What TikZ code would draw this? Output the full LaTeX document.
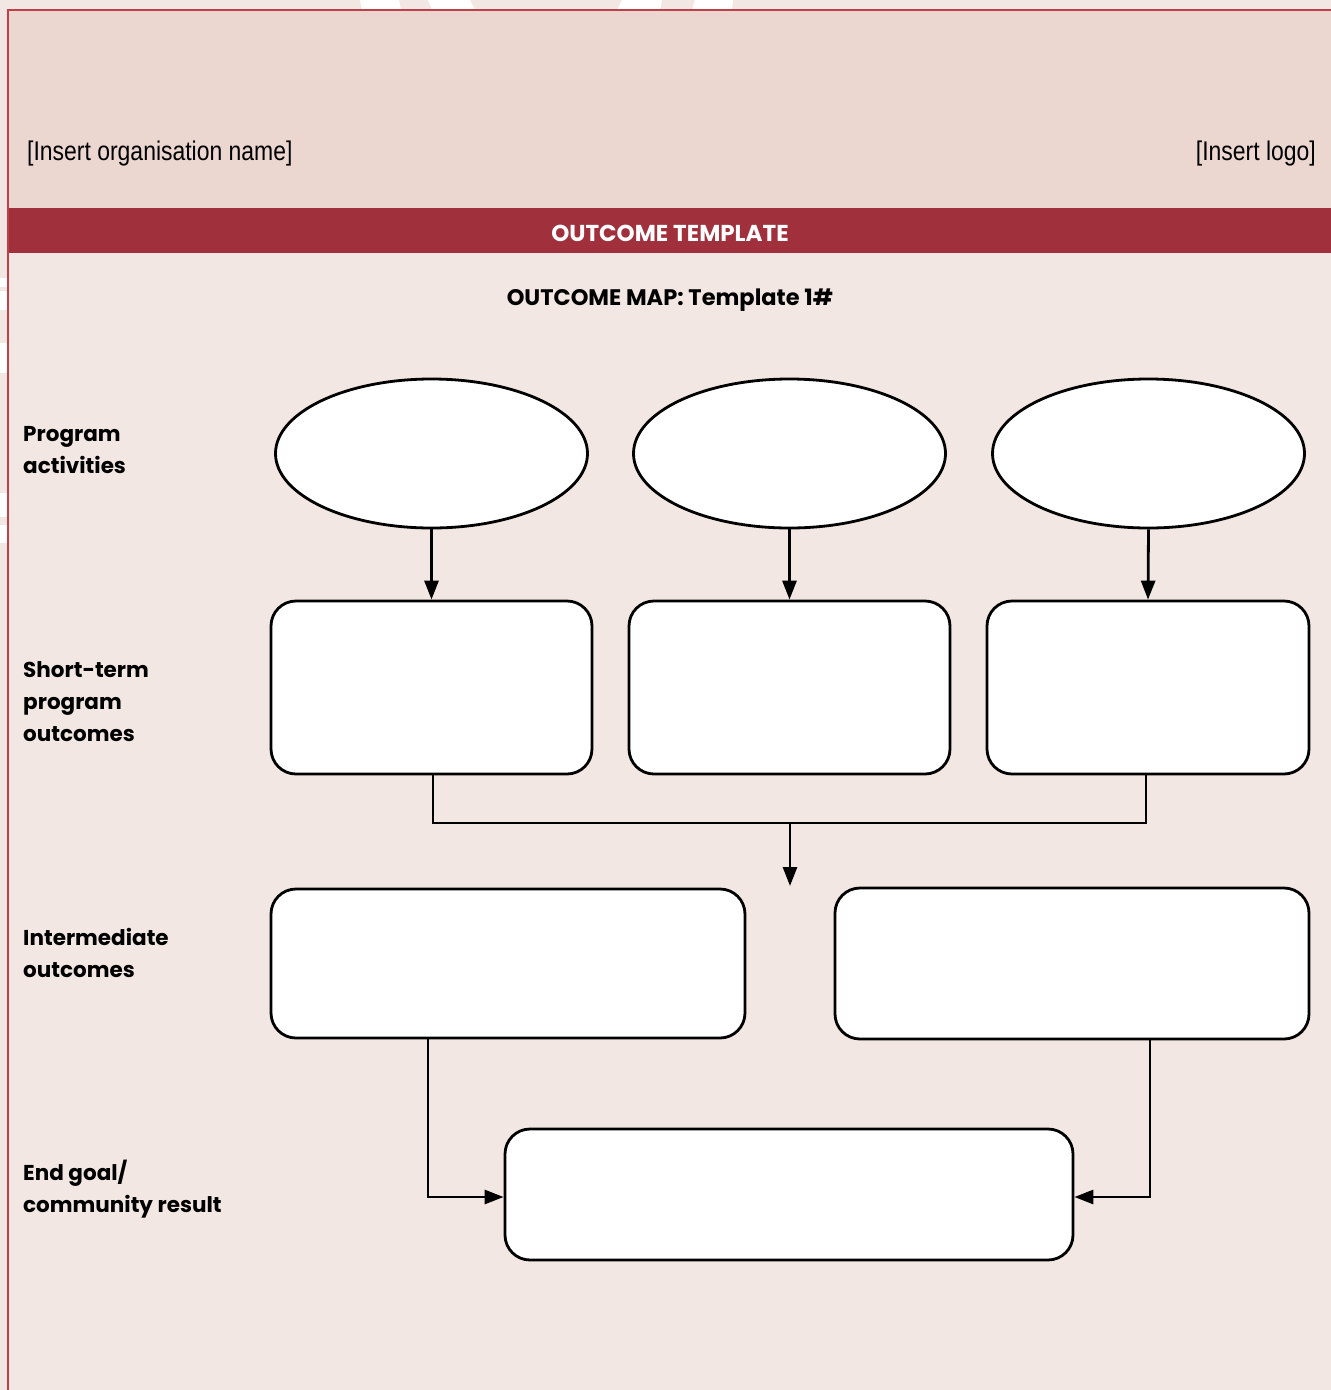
\documentclass[tikz,border=0pt]{standalone}
\usepackage{fontspec}
\usetikzlibrary{arrows.meta,shapes.geometric}
\setmainfont{Poppins}
\newfontfamily\labelfont{Poppins}
\newfontfamily\condfont[FakeStretch=0.85]{Liberation Sans}
\definecolor{pagebg}{HTML}{F2E7E2}
\definecolor{headbg}{HTML}{EBD6D0}
\definecolor{bandred}{HTML}{A0303C}
\definecolor{framered}{HTML}{C0404A}
\tikzset{
  activity/.style={ellipse,draw=black,fill=white,line width=2.8pt,minimum width=312pt,minimum height=149pt,inner sep=0pt},
  outbox/.style={draw=black,fill=white,line width=2.8pt,rounded corners=25pt,inner sep=0pt},
  link/.style={draw=black,line width=2.8pt},
  flow/.style={link,-{Triangle[length=19pt,width=14pt]}},
  rowlabel/.style={anchor=north west,align=left,inner sep=0pt,font=\labelfont\bfseries\fontsize{21.5}{32}\selectfont},
  headtext/.style={inner sep=0pt,font=\condfont\fontsize{27}{30}\selectfont}
}
\begin{document}
\begin{tikzpicture}[x=1pt,y=-1pt]
\useasboundingbox (0,0) rectangle (1331,1390);
% page background and white watermark strokes
\fill[pagebg] (0,0) rectangle (1331,1390);
\fill[white] (360,0) -- (399,0) -- (401,10) -- (362,10) -- cycle;
\fill[white] (428,0) -- (470,0) -- (475,10) -- (432,10) -- cycle;
\fill[white] (622,0) -- (662,0) -- (660,10) -- (617,10) -- cycle;
\fill[white] (695,0) -- (733,0) -- (732,10) -- (692,10) -- cycle;
\fill[white] (0,278) rectangle (8,287);
\fill[white] (0,291) rectangle (8,310);
\fill[white] (0,343) rectangle (8,373);
\fill[white] (0,493) rectangle (8,517);
\fill[white] (0,525) rectangle (8,543);
% header panel
\fill[headbg] (8,10) rectangle (1331,208);
\fill[bandred] (8,208) rectangle (1331,253);
\draw[framered,line width=1.5pt] (1331,10) -- (8,10) -- (8,1390);
\node[headtext,anchor=base west] (org) at (27,160) {[Insert organisation name]};
\node[headtext,anchor=base east] (logo) at (1316,160) {[Insert logo]};
\node[inner sep=0pt,text=white,font=\labelfont\bfseries\fontsize{23}{26}\selectfont] (band) at (670,233) {OUTCOME TEMPLATE};
\node[inner sep=0pt,font=\labelfont\bfseries\fontsize{22.5}{26}\selectfont] (title) at (670,300) {OUTCOME MAP: Template 1\#};
% row labels
\node[rowlabel] (l1) at (23,426) {Program\\activities};
\node[rowlabel] (l2) at (23,661) {Short-term\\program\\outcomes};
\node[rowlabel] (l3) at (23,928) {Intermediate\\outcomes};
\node[rowlabel] (l4) at (23,1160) {End goal/\\community result};
% program activities
\node[activity] (a1) at (431.5,453.5) {};
\node[activity] (a2) at (789.5,453.5) {};
\node[activity] (a3) at (1148.5,453.5) {};
% short-term outcomes
\node[outbox,minimum width=321pt,minimum height=173pt] (s1) at (431.5,687.5) {};
\node[outbox,minimum width=321pt,minimum height=173pt] (s2) at (789.5,687.5) {};
\node[outbox,minimum width=322pt,minimum height=173pt] (s3) at (1148,687.5) {};
% intermediate outcomes
\node[outbox,minimum width=474pt,minimum height=149pt] (m1) at (508,963.5) {};
\node[outbox,minimum width=474pt,minimum height=151pt] (m2) at (1072,963.5) {};
% end goal
\node[outbox,minimum width=568pt,minimum height=131pt] (g) at (789,1194.5) {};
% connectors
\draw[flow] (a1.south) -- (s1.north);
\draw[flow] (a2.south) -- (s2.north);
\draw[flow] (a3.south) -- (s3.north);
\coordinate (jl) at (433,823);
\coordinate (jr) at (1146,823);
\coordinate (jm) at (790,823);
\coordinate (mid) at (790,886);
\draw[link] (s1.south -| jl) -- (jl) -- (jr) -- (s3.south -| jr);
\draw[flow] (jm) -- (mid);
\coordinate (bl) at (428,1197);
\coordinate (br) at (1150,1197);
\draw[flow] (m1.south -| bl) -- (bl) -- (g.west |- bl);
\draw[flow] (m2.south -| br) -- (br) -- (g.east |- br);
\end{tikzpicture}
\end{document}
